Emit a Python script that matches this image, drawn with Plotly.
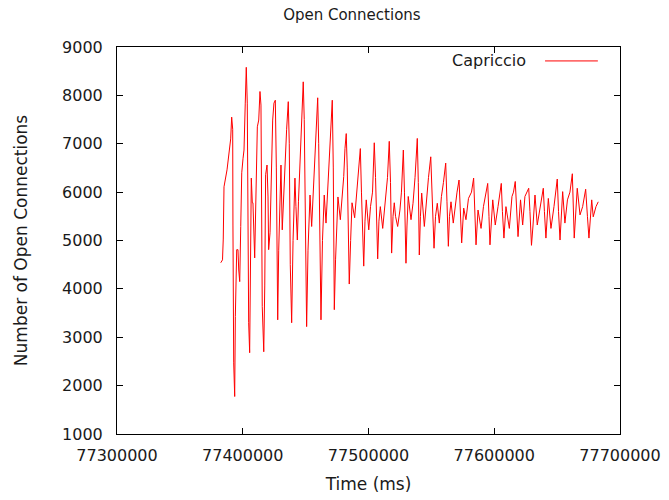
import plotly.graph_objects as go

BASE_MS = 77382000
# seconds after BASE_MS
offset_s = [0.5, 1.9, 2.5, 3.1, 5.5, 6.8, 8.4, 9.2, 10.0, 10.2, 10.8, 11.6, 12.1, 13.2, 14.2, 14.8, 15.6,
            16.4, 17.2, 18.2, 19.0, 20.0, 20.8, 21.6, 22.2, 22.7, 23.5, 24.0, 24.8, 25.6, 26.1, 27.5, 28.3,
            29.6, 30.7, 31.7, 32.5, 32.7, 33.5, 34.7, 35.5, 36.2, 37.3, 38.1, 38.6, 39.7, 40.7, 41.8, 42.8,
            43.9, 44.7, 45.2, 45.8, 46.6, 48.4, 49.4, 50.4, 51.6, 52.9, 54.2, 55.0, 55.8, 56.9, 58.0, 59.5,
            60.3, 61.4, 62.3, 63.5, 64.9, 66.1, 66.9, 67.7, 68.8, 69.9, 71.5, 72.8, 73.9, 75.1, 76.2, 77.6,
            78.4, 79.2, 80.2, 81.4, 82.8, 84.2, 85.4, 86.6, 87.8, 89.2, 90.0, 90.8, 91.8, 93.7, 95.6, 96.9,
            98.3, 99.3, 100.3, 101.1, 101.9, 102.7, 103.8, 104.9, 107.0, 108.5, 110.2, 111.5, 112.4, 113.2,
            114.2, 115.2, 116.2, 118.2, 119.6, 121.2, 122.6, 123.6, 124.4, 125.3, 126.3, 127.4, 129.3, 131.1,
            133.1, 134.5, 135.5, 136.4, 137.5, 138.5, 139.5, 141.2, 143.0, 144.2, 145.7, 146.6, 147.8, 148.6,
            149.6, 151.8, 153.4, 155.0, 156.8, 157.6, 158.4, 159.3, 160.3, 162.4, 164.1, 165.7, 167.5, 168.5,
            170.1, 171.3, 172.7, 174.3, 176.0, 177.6, 179.4, 180.4, 181.5, 182.4, 183.6, 185.4, 187.2, 188.4,
            190.0, 191.2, 192.1, 193.7, 195.5, 197.5, 199.9, 201.6, 202.7, 203.5, 205.1, 207.5, 209.4, 211.0,
            212.8, 213.8, 214.6, 216.8, 218.8, 221.0, 222.2, 223.6, 224.5, 225.7, 227.3, 230.0, 232.1, 233.3,
            234.7, 235.7, 236.9, 238.9, 240.6, 242.4, 244.0, 245.4, 246.4, 247.6, 248.8, 250.4, 252.2, 254.4,
            255.6, 257.0, 257.9, 259.1, 261.0, 263.1, 265.5, 266.7, 268.1, 269.1, 270.3, 272.4, 274.2, 276.2,
            278.2, 280.1, 280.8, 281.6, 284.0, 286.2, 288.3, 289.8, 290.7, 292.1, 293.3, 295.5, 296.7, 298.9,
            300.7]

open_connections = [4540, 4600, 5030, 6110, 6460, 6730, 7100, 7550, 7300, 5320, 2470, 1775, 3430, 4810, 4810, 4390, 4150,
                    5290, 6400, 6690, 6870, 7840, 8580, 7840, 5290, 3300, 2680, 5010, 6290, 5780, 5780, 4640, 5940,
                    7350, 7490, 8080, 7800, 5740, 3640, 2700, 4060, 6360, 6560, 5900, 4810, 5160, 6320, 7490, 7840,
                    7900, 6500, 4950, 3360, 4800, 6560, 5220, 5900, 6500, 7300, 7870, 7000, 4500, 3300, 5000, 6290,
                    5700, 5010, 5800, 6600, 7400, 8280, 7500, 5000, 3220, 4800, 5940, 5290, 5900, 6700, 7400, 7950,
                    7000, 5000, 3360, 5000, 5940, 5360, 6000, 6700, 7300, 7900, 6500, 3570, 4600, 5900, 5430, 5900,
                    6320, 6900, 7210, 6500, 5000, 4100, 5000, 5780, 5470, 5900, 6460, 6900, 6000, 5000,
                    4470, 5400, 5840, 5220, 5700, 6000, 7020, 6300, 5200, 4620, 5400, 5700, 5250, 5700,
                    6300, 7050, 6200, 4740, 5500, 5780, 5500, 5290, 5630, 6000, 6870, 6000, 4530, 5300,
                    5910, 5430, 5770, 6300, 7110, 6200, 4700, 5500, 5980, 5290, 5910, 6300, 6730, 6000,
                    4840, 5500, 5770, 5360, 5910, 6200, 6600, 5800, 4880, 5500, 5800, 5360, 5800, 6000,
                    6250, 5600, 4950, 5670, 5430, 5870, 6000, 6290, 5500, 4910, 5630, 5250, 5700, 5900,
                    6180, 5500, 4910, 5840, 5320, 5700, 5900, 6180, 5600, 5050, 5700, 5250, 5910, 6000,
                    6220, 5600, 5080, 5840, 5320, 5910, 6000, 6080, 5600, 4900, 5300, 5940, 5320, 5700,
                    5900, 6080, 5600, 5050, 5870, 5250, 5700, 6000, 6270, 5600, 5010, 6010, 5360, 5840,
                    6000, 6380, 5800, 5050, 6080, 5530, 5700, 5950, 6060, 5500, 5050, 5840, 5490, 5700,
                    5800]

x_ticks = [77300000, 77400000, 77500000, 77600000, 77700000]
y_ticks = [1000, 2000, 3000, 4000, 5000, 6000, 7000, 8000, 9000]

time_ms = [BASE_MS + s * 1000 for s in offset_s]

FONT = "DejaVu Sans"
TXT = "#1a1a1a"

fig = go.Figure()
fig.add_trace(go.Scatter(x=time_ms, y=open_connections, mode="lines", name="Capriccio",
                         line=dict(color="#ff0000", width=1), showlegend=False))

axis_common = dict(showline=True, linecolor="black", linewidth=1, mirror="ticks",
                   ticks="inside", ticklen=6, tickcolor="black", showgrid=False, zeroline=False,
                   automargin=False,
                   tickfont=dict(family=FONT, size=16, color=TXT))

fig.update_xaxes(range=[x_ticks[0], x_ticks[-1]], tickvals=x_ticks,
                 ticktext=[str(v) for v in x_ticks], ticklabelstandoff=7,
                 title=dict(text="Time (ms)", font=dict(family=FONT, size=17, color=TXT), standoff=13),
                 **axis_common)
fig.update_yaxes(range=[y_ticks[0], y_ticks[-1]], tickvals=y_ticks,
                 ticktext=[str(v) for v in y_ticks], ticklabelstandoff=10,
                 title=dict(text="Number of Open Connections", font=dict(family=FONT, size=17, color=TXT), standoff=30),
                 **axis_common)

# gnuplot-style key: text followed by line sample
fig.add_annotation(xref="paper", yref="paper", x=0.818, y=0.964, xanchor="right", yanchor="middle",
                   text="Capriccio", showarrow=False, font=dict(family=FONT, size=16, color=TXT))
fig.add_shape(type="line", xref="paper", yref="paper", x0=0.851, x1=0.956, y0=0.964, y1=0.964,
              line=dict(color="#ff0000", width=1))

fig.update_layout(
    width=669, height=500,
    margin=dict(l=117, r=49, t=47, b=66),
    paper_bgcolor="white", plot_bgcolor="white",
    title=dict(text="Open Connections", x=0.526, xref="container", xanchor="center",
               y=0.97, yref="container", yanchor="middle",
               font=dict(family=FONT, size=15, color=TXT)),
)

fig.write_html("out.html")
